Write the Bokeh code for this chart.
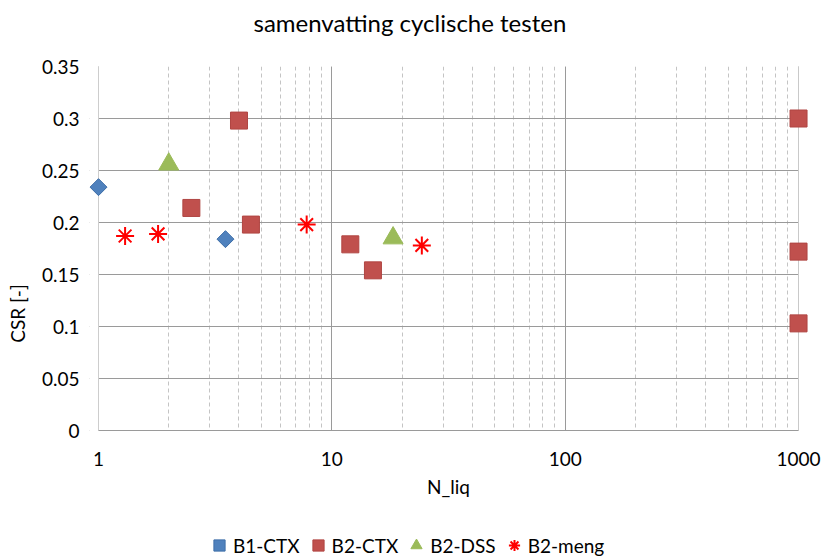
from bokeh.plotting import figure
from bokeh.models import Legend, LegendItem, FixedTicker, LogTicker, Range1d, BoxAnnotation
from bokeh.embed import file_html
from bokeh.resources import INLINE
import math

# ---- data ----
b1_ctx_n = [1.0, 3.5]
b1_ctx_csr = [0.234, 0.184]
b2_ctx_n = [2.5, 4.0, 4.5, 12.0, 15.0, 1000.0, 1000.0, 1000.0]
b2_ctx_csr = [0.214, 0.298, 0.198, 0.179, 0.154, 0.300, 0.172, 0.103]
b2_dss_n = [2.0, 18.3]
b2_dss_csr = [0.256, 0.185]
b2_meng_n = [1.3, 1.8, 7.8, 24.3]
b2_meng_csr = [0.187, 0.189, 0.198, 0.178]

y_ticks = [0, 0.05, 0.1, 0.15, 0.2, 0.25, 0.3, 0.35]
y_tick_labels = ["0", "0.05", "0.1", "0.15", "0.2", "0.25", "0.3", "0.35"]
x_ticks = [1, 10, 100, 1000]
x_tick_labels = ["1", "10", "100", "1000"]

FONT = "Lato"
TXT = "#000000"
GRID = "#9a9a9a"

x_lo, x_hi = x_ticks[0], x_ticks[-1]
y_lo, y_hi = y_ticks[0], y_ticks[-1]
# the frame reaches below y=0 and right of x=1000 to leave room (inside the
# frame) for axis labels and the legend; small log pads keep edge markers unclipped
pad_left, pad_right = 0.0386, 0.107
plot_h, below_h = 364, 130
p = figure(width=823, height=560, x_axis_type="log",
           x_range=Range1d(x_lo * 10 ** -pad_left, x_hi * 10 ** pad_right),
           y_range=Range1d(y_lo - (y_hi - y_lo) * below_h / plot_h, y_hi),
           output_backend="svg", toolbar_location=None,
           title="samenvatting cyclische testen\n",
           min_border_top=66, min_border_left=89, min_border_right=0,
           min_border_bottom=0)

p.title.align = "left"
p.title.offset = 164
p.title.text_font = FONT
p.title.text_font_size = "24px"
p.title.text_font_style = "normal"
p.title.text_color = TXT
p.title.standoff = 2

p.outline_line_color = None
p.background_fill_color = "white"
p.border_fill_color = "white"

# axes
p.xaxis.ticker = LogTicker(num_minor_ticks=10, desired_num_ticks=4)
p.xaxis.major_label_overrides = {t: l for t, l in zip(x_ticks, x_tick_labels)}
p.yaxis.ticker = FixedTicker(ticks=y_ticks)
p.yaxis.major_label_overrides = {t: l for t, l in zip(y_ticks, y_tick_labels)}
for ax in (p.xaxis[0], p.yaxis[0]):
    ax.major_tick_out = 0
    ax.major_tick_in = 0
    ax.minor_tick_out = 0
    ax.minor_tick_in = 0
    ax.axis_line_color = None
    ax.major_label_text_font = FONT
    ax.major_label_text_font_size = "19px"
    ax.major_label_text_color = TXT
    ax.axis_label_text_font = FONT
    ax.axis_label_text_font_size = "19px"
    ax.axis_label_text_font_style = "normal"
    ax.axis_label_text_color = TXT

p.xaxis.fixed_location = y_lo
p.xaxis.bounds = (x_lo, x_hi)
p.xaxis.axis_line_color = GRID
p.xaxis.axis_label = "N_liq"
p.xaxis.major_label_standoff = 21
p.xaxis.axis_label_standoff = 6
p.yaxis.bounds = (y_lo, y_hi)
p.yaxis.axis_label = "CSR [-]"
p.yaxis.major_label_standoff = 10
p.yaxis.axis_label_standoff = 10

# grids
p.xgrid.grid_line_color = GRID
p.xgrid.grid_line_width = 1
p.xgrid.minor_grid_line_color = "#c4c4c4"
p.xgrid.minor_grid_line_dash = "4 3"
p.ygrid.grid_line_color = GRID
p.ygrid.grid_line_width = 1

# hide grid overhang outside the 1..1000 x 0..0.35 plot area
for box in (BoxAnnotation(right=x_lo), BoxAnnotation(left=x_hi), BoxAnnotation(top=y_lo)):
    box.fill_color = "white"
    box.fill_alpha = 1
    box.line_color = None
    box.level = "underlay"
    p.add_layout(box)

# series
r1 = p.scatter(b1_ctx_n, b1_ctx_csr, marker="square", size=12, angle=math.pi / 4,
               fill_color="#4f81bd", line_color="#3f6fa8", line_width=1)
r2 = p.scatter(b2_ctx_n, b2_ctx_csr, marker="square", size=17,
               fill_color="#c0504d", line_color="#b04542", line_width=1)
r3 = p.scatter(b2_dss_n, b2_dss_csr, marker="triangle", size=20,
               fill_color="#9bbb59", line_color="#9bbb59", line_width=1)
r4 = p.scatter(b2_meng_n, b2_meng_csr, marker="asterisk", size=18,
               line_color="#ff0000", line_width=2)

legend = Legend(items=[
    LegendItem(label="B1-CTX", renderers=[r1]),
    LegendItem(label="B2-CTX", renderers=[r2]),
    LegendItem(label="B2-DSS", renderers=[r3]),
    LegendItem(label="B2-meng", renderers=[r4]),
], orientation="horizontal", location=(116, 1))
legend.label_text_font = FONT
legend.label_text_font_size = "19px"
legend.label_text_color = TXT
legend.glyph_width = 28
legend.glyph_height = 28
legend.label_standoff = 0
legend.spacing = 4
legend.padding = 0
legend.margin = 0
legend.border_line_color = None
legend.background_fill_alpha = 0
p.add_layout(legend, "center")

open("out.html", "w").write(file_html(p, INLINE))
